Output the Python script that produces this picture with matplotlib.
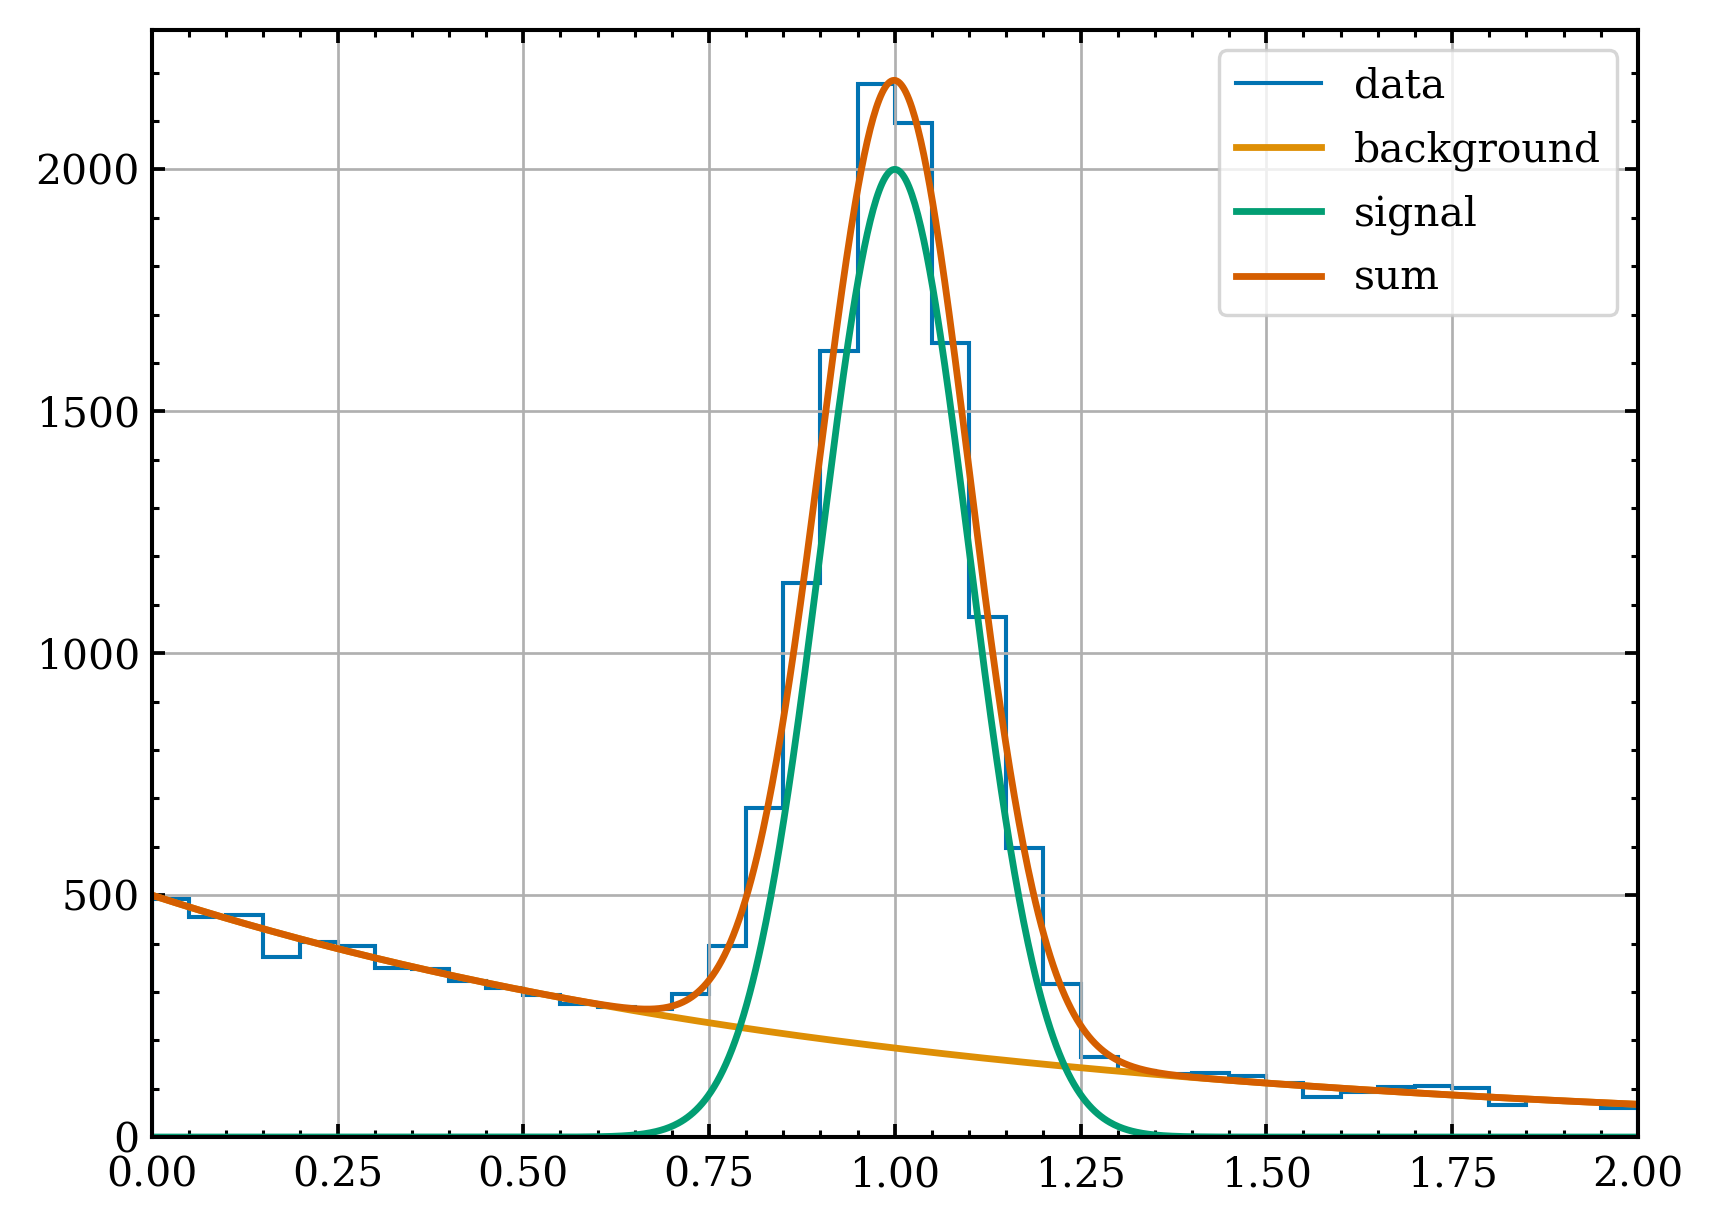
"""Histogram of data with background, signal and summed fit curves."""

import matplotlib

matplotlib.use("Agg")
import matplotlib.pyplot as plt
import numpy as np
from matplotlib.ticker import MultipleLocator

# histogram bin edges (40 bins of width 0.05) and counts
bin_edges = np.linspace(0.0, 2.0, 41)
counts = [
    492, 454, 459, 373, 404, 395, 350, 347, 322, 309,
    294, 275, 269, 265, 296, 395, 681, 1146, 1625, 2176,
    2096, 1642, 1075, 598, 317, 165, 137, 131, 133, 126,
    112, 83, 94, 103, 106, 102, 66, 76, 73, 59,
]

# fitted model parameters
bg_amplitude = 500.0
bg_decay = 1.0
sig_amplitude = 2000.0
sig_mean = 1.0
sig_width = 0.1

colors = ["#0173B2", "#DE8F05", "#029E73", "#D55E00"]

plt.rcParams["font.family"] = "DejaVu Serif"
plt.rcParams["font.size"] = 12

x = np.linspace(0.0, 2.0, 1000)
background = bg_amplitude * np.exp(-bg_decay * x)
signal = sig_amplitude * np.exp(-((x - sig_mean) ** 2) / (2 * sig_width**2))

fig = plt.figure(figsize=(7, 5), dpi=245)
ax = fig.add_axes([0.0885, 0.0718, 0.8665, 0.9037])

ax.stairs(counts, bin_edges, color=colors[0], linewidth=1.2, label="data")
ax.plot(x, background, color=colors[1], linewidth=2, label="background")
ax.plot(x, signal, color=colors[2], linewidth=2, label="signal")
ax.plot(x, background + signal, color=colors[3], linewidth=2, label="sum")

ax.set_xlim(0, 2)
ax.set_ylim(0, 2288)
ax.xaxis.set_major_locator(MultipleLocator(0.25))
ax.xaxis.set_minor_locator(MultipleLocator(0.05))
ax.yaxis.set_major_locator(MultipleLocator(500))
ax.yaxis.set_minor_locator(MultipleLocator(100))
ax.xaxis.set_major_formatter(plt.FormatStrFormatter("%.2f"))

ax.tick_params(which="both", direction="in", top=True, right=True)
ax.tick_params(which="major", length=3.8, width=1.1)
ax.tick_params(which="minor", length=2.0, width=0.9)
ax.tick_params(axis="x", which="major", pad=5.5)
for spine in ax.spines.values():
    spine.set_linewidth(1.2)

ax.grid(color="#b0b0b0", linewidth=0.8)
ax.legend(loc="upper right", labelspacing=0.58, handlelength=2.1)

fig.savefig("out.png", dpi=245)
